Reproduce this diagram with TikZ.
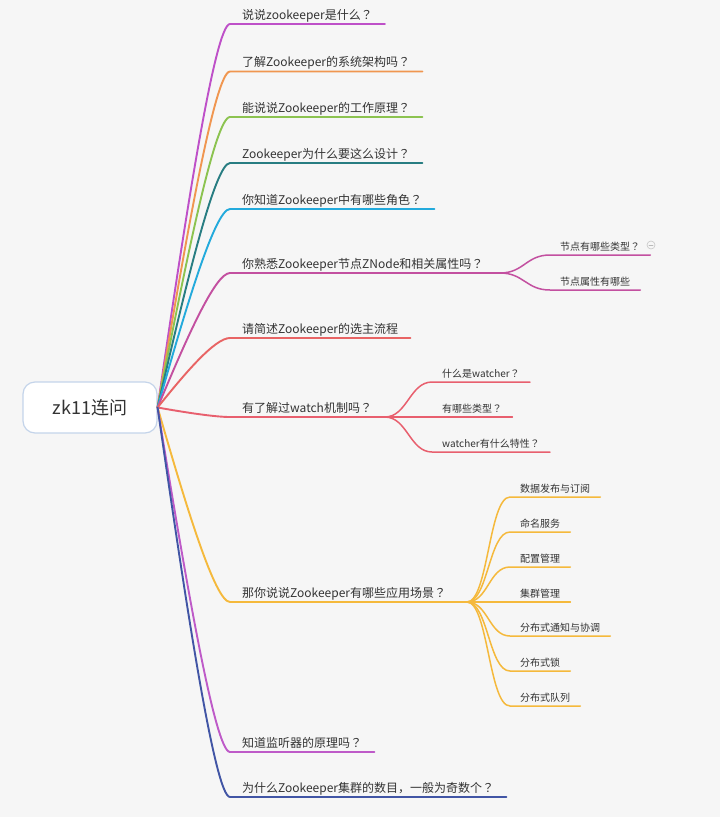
\documentclass[tikz,border=0pt]{standalone}
\usepackage{fontspec}
\setmainfont{Noto Sans CJK SC}
\newfontfamily\punctfont{Noto Sans CJK TC}
\newcommand{\qmark}{{\punctfont ？}}
\usetikzlibrary{positioning}
\definecolor{bgray}{RGB}{246,246,246}
\definecolor{txt}{RGB}{51,51,51}
\definecolor{rootline}{RGB}{196,212,234}
\definecolor{cPurple}{RGB}{190,80,200}
\definecolor{cOrange}{RGB}{240,150,80}
\definecolor{cGreen}{RGB}{140,195,80}
\definecolor{cTeal}{RGB}{40,125,130}
\definecolor{cCyan}{RGB}{35,170,220}
\definecolor{cPink}{RGB}{195,80,160}
\definecolor{cRed}{RGB}{232,100,100}
\definecolor{cRose}{RGB}{232,95,110}
\definecolor{cYellow}{RGB}{245,185,60}
\definecolor{cViolet}{RGB}{190,90,200}
\definecolor{cBlue}{RGB}{65,85,165}

\begin{document}
\begin{tikzpicture}[x=1pt,y=-1pt,line cap=round]
%mind map, coordinates in pixels of the page (y grows downwards)
    \tikzstyle{central}=[draw=rootline,fill=white,line width=1.2pt,rounded corners=12pt,minimum width=134pt,minimum height=51pt,text=txt,font=\fontsize{18}{20}\selectfont]
    \tikzstyle{topic}=[anchor=south west,inner xsep=12pt,inner ysep=2pt,text height=9pt,text depth=2.5pt,text=txt,font=\fontsize{12}{14}\selectfont]
    \tikzstyle{subtopic}=[anchor=south west,inner xsep=10pt,inner ysep=2pt,text height=7.5pt,text depth=2.5pt,text=txt,font=\fontsize{10}{12}\selectfont]
    \tikzstyle{branch}=[line width=1.9pt]
    \tikzstyle{twig}=[line width=1.5pt]

    \fill[bgray] (0,0) rectangle (720,817);
    \useasboundingbox (0,0) rectangle (720,817);

    \node[central] (zk) at (90,407.5) {zk11连问};

    \node[topic] (q1) at (230,24) {说说zookeeper是什么\qmark};
    \node[topic] (q2) at (230,71.5) {了解Zookeeper的系统架构吗\qmark};
    \node[topic] (q3) at (230,117) {能说说Zookeeper的工作原理\qmark};
    \node[topic] (q4) at (230,163) {Zookeeper为什么要这么设计\qmark};
    \node[topic] (q5) at (230,209) {你知道Zookeeper中有哪些角色\qmark};
    \node[topic] (q6) at (230,273) {你熟悉Zookeeper节点ZNode和相关属性吗\qmark};
    \node[topic] (q7) at (230,338) {请简述Zookeeper的选主流程};
    \node[topic] (q8) at (230,417) {有了解过watch机制吗\qmark};
    \node[topic] (q9) at (230,602) {那你说说Zookeeper有哪些应用场景\qmark};
    \node[topic] (q10) at (230,752) {知道监听器的原理吗\qmark};
    \node[topic] (q11) at (230,797) {为什么Zookeeper集群的数目，一般为奇数个\qmark};

    \coordinate (f6) at (500,273);
    \coordinate (f8) at (385,417);
    \coordinate (f9) at (467,602);

    \node[subtopic] (z1) at (550,255) {节点有哪些类型\qmark};
    \node[subtopic] (z2) at (550,290) {节点属性有哪些};
    \node[circle,draw=gray!45,line width=0.6pt,minimum size=8pt,inner sep=0pt] (fold) at (651,245) {};
    \draw[gray!55,line width=0.6pt] ([xshift=-2pt]fold.center) -- ([xshift=2pt]fold.center);

    \node[subtopic] (w1) at (432,382) {什么是watcher\qmark};
    \node[subtopic] (w2) at (432,417) {有哪些类型\qmark};
    \node[subtopic] (w3) at (432,452) {watcher有什么特性\qmark};

    \node[subtopic] (a1) at (510,497) {数据发布与订阅};
    \node[subtopic] (a2) at (510,532) {命名服务};
    \node[subtopic] (a3) at (510,567) {配置管理};
    \node[subtopic] (a4) at (510,602) {集群管理};
    \node[subtopic] (a5) at (510,636) {分布式通知与协调};
    \node[subtopic] (a6) at (510,671) {分布式锁};
    \node[subtopic] (a7) at (510,706) {分布式队列};

    \draw[branch,cPurple] (zk.east) .. controls +(28,-192) and +(-15,0) .. (q1.south west) -- (q1.south east);
    \draw[branch,cOrange] (zk.east) .. controls +(28,-168) and +(-15,0) .. (q2.south west) -- (q2.south east);
    \draw[branch,cGreen] (zk.east) .. controls +(28,-145) and +(-15,0) .. (q3.south west) -- (q3.south east);
    \draw[branch,cTeal] (zk.east) .. controls +(28,-122) and +(-15,0) .. (q4.south west) -- (q4.south east);
    \draw[branch,cCyan] (zk.east) .. controls +(28,-99) and +(-15,0) .. (q5.south west) -- (q5.south east);
    \draw[branch,cPink] (zk.east) .. controls +(28,-67) and +(-15,0) .. (q6.south west) -- (f6);
    \draw[branch,cRed] (zk.east) .. controls +(28,-35) and +(-15,0) .. (q7.south west) -- (q7.south east);
    \draw[branch,cRose] (zk.east) .. controls +(28,5) and +(-15,0) .. (q8.south west) -- (f8);
    \draw[branch,cYellow] (zk.east) .. controls +(28,97) and +(-15,0) .. (q9.south west) -- (f9);
    \draw[branch,cViolet] (zk.east) .. controls +(28,172) and +(-15,0) .. (q10.south west) -- (q10.south east);
    \draw[branch,cBlue] (zk.east) .. controls +(28,195) and +(-15,0) .. (q11.south west) -- (q11.south east);

    \draw[twig,cPink] (f6) .. controls +(24,0) and +(-24,0) .. (z1.south west) -- (z1.south east);
    \draw[twig,cPink] (f6) .. controls +(24,0) and +(-24,0) .. (z2.south west) -- (z2.south east);

    \draw[twig,cRose] (f8) .. controls +(22,0) and +(-22,0) .. (w1.south west) -- (w1.south east);
    \draw[twig,cRose] (f8) -- (w2.south west) -- (w2.south east);
    \draw[twig,cRose] (f8) .. controls +(22,0) and +(-22,0) .. (w3.south west) -- (w3.south east);

    \draw[twig,cYellow] (f9) .. controls +(21,0) and +(-21,0) .. (a1.south west) -- (a1.south east);
    \draw[twig,cYellow] (f9) .. controls +(21,0) and +(-21,0) .. (a2.south west) -- (a2.south east);
    \draw[twig,cYellow] (f9) .. controls +(21,0) and +(-21,0) .. (a3.south west) -- (a3.south east);
    \draw[twig,cYellow] (f9) -- (a4.south west) -- (a4.south east);
    \draw[twig,cYellow] (f9) .. controls +(21,0) and +(-21,0) .. (a5.south west) -- (a5.south east);
    \draw[twig,cYellow] (f9) .. controls +(21,0) and +(-21,0) .. (a6.south west) -- (a6.south east);
    \draw[twig,cYellow] (f9) .. controls +(21,0) and +(-21,0) .. (a7.south west) -- (a7.south east);
\end{tikzpicture}
\end{document}
